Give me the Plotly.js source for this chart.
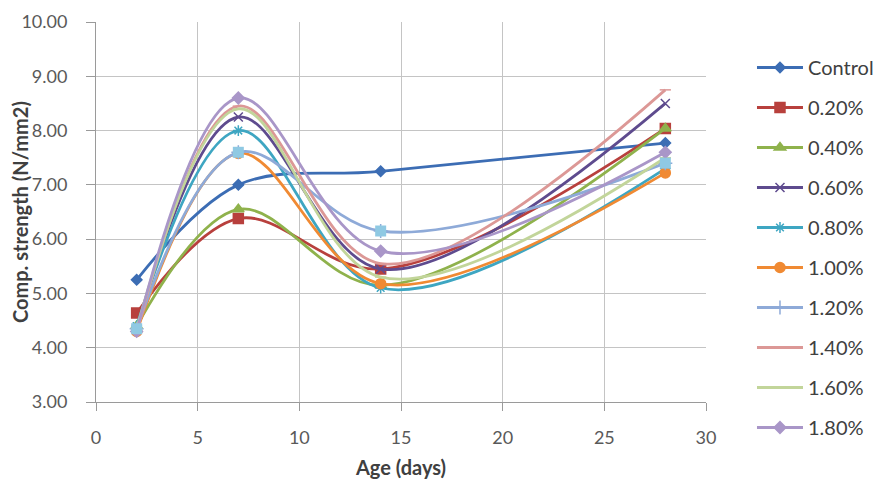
<!DOCTYPE html>
<html>
<head>
<meta charset="utf-8">
<script src="https://cdn.plot.ly/plotly-3.0.1.min.js"></script>
<style>html,body{margin:0;padding:0;background:#fff;}#chart{width:879px;height:479px;}</style>
</head>
<body>
<div id="chart"></div>
<script>
const ages = [2, 7, 14, 28];
const seriesNames = ["Control", "0.20%", "0.40%", "0.60%", "0.80%", "1.00%", "1.20%", "1.40%", "1.60%", "1.80%"];
const control = [5.25, 7.00, 7.25, 7.77];
const p020 = [4.64, 6.38, 5.45, 8.04];
const p040 = [4.40, 6.55, 5.15, 8.04];
const p060 = [4.35, 8.25, 5.45, 8.50];
const p080 = [4.40, 8.00, 5.10, 7.30];
const p100 = [4.30, 7.58, 5.18, 7.22];
const p120 = [4.35, 7.60, 6.15, 7.40];
const p140 = [4.28, 8.45, 5.55, 8.75];
const p160 = [4.35, 8.40, 5.30, 7.50];
const p180 = [4.30, 8.60, 5.78, 7.60];
const yTicks = [3, 4, 5, 6, 7, 8, 9, 10];
const xTicks = [0, 5, 10, 15, 20, 25, 30];
const xTitle = "Age (days)";
const yTitle = "Comp. strength (N/mm2)";

const allValues = [control, p020, p040, p060, p080, p100, p120, p140, p160, p180];
const colors = ["#3c6db4", "#b8403d", "#8fb24c", "#5e4b8e", "#3ea6c2", "#f08a33", "#8eaad8", "#dc9896", "#c2d59a", "#a996c8"];
const symbols = ["diamond", "square", "triangle-up", "x-thin-open", "asterisk-open", "circle", "cross-thin-open", "line-ew-open", "line-ew-open", "diamond"];
const sizes = [8, 10, 10, 9, 9, 10, 10, 8, 8, 9];

const traces = allValues.map((vals, i) => ({
  x: ages, y: vals, name: seriesNames[i], type: "scatter", mode: "lines+markers",
  legendgroup: "g" + i,
  line: {color: colors[i], width: 2.8, shape: "spline", smoothing: 1},
  marker: {symbol: symbols[i], size: sizes[i], color: colors[i], line: {color: colors[i], width: 1.5}}
}));
// light blue square markers visible on the 1.20% series points
traces.push({
  x: ages, y: p120, type: "scatter", mode: "markers", showlegend: false, legendgroup: "g6",
  marker: {symbol: "square", size: 11, color: "#8fc9e3"}
});

const fam = "Lato, 'Open Sans', sans-serif";
const axisFont = {family: fam, size: 18, color: "#595959"};
const layout = {
  width: 879, height: 479,
  margin: {l: 96, r: 173, t: 22, b: 77},
  paper_bgcolor: "#ffffff", plot_bgcolor: "#ffffff",
  showlegend: true,
  xaxis: {
    range: [0, 30], tickvals: xTicks, ticktext: xTicks.map(String),
    showgrid: true, gridcolor: "#c4c4c4", gridwidth: 1,
    showline: true, linecolor: "#9a9a9a", linewidth: 1, mirror: false,
    ticks: "outside", ticklen: 8, tickcolor: "#9a9a9a",
    ticklabelstandoff: 11,
    zeroline: false, tickfont: axisFont, automargin: false,
    title: {text: "<b>" + xTitle + "</b>", font: {family: fam, size: 20, color: "#404040"}, standoff: 15}
  },
  yaxis: {
    range: [3, 10], tickvals: yTicks, ticktext: yTicks.map(v => v.toFixed(2)),
    showgrid: true, gridcolor: "#c4c4c4", gridwidth: 1,
    showline: true, linecolor: "#9a9a9a", linewidth: 1,
    ticks: "outside", ticklen: 9, tickcolor: "#9a9a9a",
    ticklabelstandoff: 15,
    zeroline: false, tickfont: axisFont, automargin: false
  },
  annotations: [{
    text: "<b>" + yTitle + "</b>", textangle: -90, showarrow: false,
    xref: "paper", yref: "paper", x: (20 - 96) / 610, y: 0.5, xanchor: "center", yanchor: "middle",
    font: {family: fam, size: 20, color: "#404040"}
  }],
  legend: {
    xref: "container", yref: "container",
    x: 0.8555, xanchor: "left", y: 1 - 48 / 479, yanchor: "top",
    maxheight: 470,
    font: {family: fam, size: 20, color: "#404040"},
    traceorder: "grouped", tracegroupgap: 11, itemwidth: 46,
    bgcolor: "rgba(0,0,0,0)"
  }
};
Plotly.newPlot("chart", traces, layout, {displayModeBar: false, staticPlot: true});
</script>
</body>
</html>
